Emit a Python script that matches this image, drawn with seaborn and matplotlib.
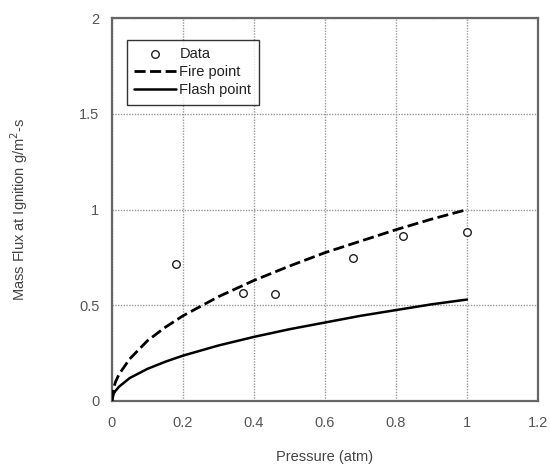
import matplotlib
matplotlib.use("Agg")
import matplotlib.pyplot as plt
import seaborn as sns
import pandas as pd

# Data
data_p = [0.18, 0.37, 0.46, 0.68, 0.82, 1.0]
data_flux = [0.715, 0.565, 0.56, 0.745, 0.86, 0.885]

curve_p = [0.0, 0.005, 0.01, 0.02, 0.05, 0.1, 0.15, 0.2, 0.3, 0.4, 0.5, 0.6, 0.7, 0.8, 0.9, 1.0]
fire_flux = [0.0, 0.07, 0.10, 0.14, 0.22, 0.315, 0.385, 0.445, 0.545, 0.63, 0.705, 0.775, 0.835, 0.895, 0.95, 1.0]
flash_flux = [0.0, 0.04, 0.053, 0.075, 0.12, 0.168, 0.205, 0.237, 0.29, 0.335, 0.375, 0.41, 0.445, 0.475, 0.505, 0.53]

x_ticks = [0, 0.2, 0.4, 0.6, 0.8, 1, 1.2]
x_tick_labels = ["0", "0.2", "0.4", "0.6", "0.8", "1", "1.2"]
y_ticks = [0, 0.5, 1, 1.5, 2]
y_tick_labels = ["0", "0.5", "1", "1.5", "2"]

sns.set_style("white")
plt.rcParams["font.family"] = ["Liberation Sans", "DejaVu Sans"]

fig = plt.figure(figsize=(5.5, 4.66), dpi=100)
ax = fig.add_axes([0.2036, 0.1395, 0.7746, 0.8215])

df_pts = pd.DataFrame({"p": data_p, "flux": data_flux})
df_curve = pd.DataFrame({"p": curve_p, "fire": fire_flux, "flash": flash_flux})

sns.scatterplot(data=df_pts, x="p", y="flux", ax=ax, marker="o", s=30,
                facecolor="white", edgecolor="#222222", linewidth=1.0,
                label="Data", zorder=5)
sns.lineplot(data=df_curve, x="p", y="fire", ax=ax, color="black",
             linewidth=2.0, linestyle=(0, (4, 1.6)), label="Fire point", zorder=4)
sns.lineplot(data=df_curve, x="p", y="flash", ax=ax, color="black",
             linewidth=1.8, label="Flash point", zorder=4)

ax.set_xlim(0, 1.2)
ax.set_ylim(0, 2)
ax.set_xticks(x_ticks)
ax.set_xticklabels(x_tick_labels)
ax.set_yticks(y_ticks)
ax.set_yticklabels(y_tick_labels)
ax.grid(True, color="#999999", linestyle=(0, (1, 1)), linewidth=1.0)
ax.set_axisbelow(True)
for s in ax.spines.values():
    s.set_color("#666666")
    s.set_linewidth(1.6)
ax.tick_params(axis="both", direction="in", length=4, width=1, colors="#666666",
               labelsize=10.5, labelcolor="#555555")
ax.tick_params(axis="x", pad=11)
ax.tick_params(axis="y", pad=9)

ax.set_xlabel("Pressure (atm)", fontsize=10.5, color="#444444", labelpad=14)
ax.set_ylabel("Mass Flux at Ignition g/m$^2$-s", fontsize=10.5, color="#444444", labelpad=35)

leg = ax.legend(loc="upper left", bbox_to_anchor=(0.035, 0.943), frameon=True,
                fancybox=False, edgecolor="black", fontsize=10.5,
                handlelength=2.9, handletextpad=0.2, borderpad=0.5,
                labelspacing=0.28, borderaxespad=0)
leg.get_frame().set_linewidth(1.0)
for t in leg.get_texts():
    t.set_color("#222222")

fig.savefig("out.png", dpi=100)
